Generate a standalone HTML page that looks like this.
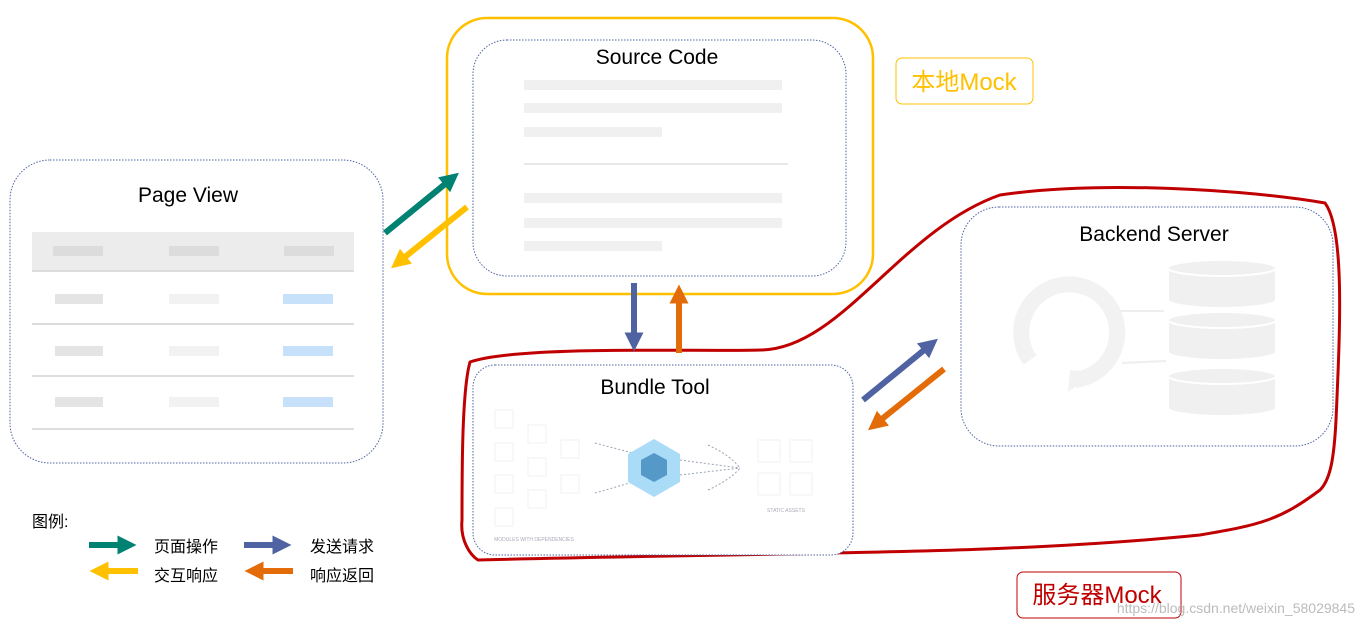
<!DOCTYPE html>
<html><head><meta charset="utf-8"><style>
body{margin:0;width:1364px;height:626px;background:#fff;overflow:hidden;font-family:"Liberation Sans","Noto Sans CJK SC",sans-serif}
</style></head><body>
<svg width="1364" height="626" viewBox="0 0 1364 626" xmlns="http://www.w3.org/2000/svg" font-family="Liberation Sans, Noto Sans CJK SC, sans-serif">
<defs>
<marker id="m" viewBox="0 0 10 10" refX="4" refY="5" markerWidth="3.2" markerHeight="3.4" orient="auto"><path d="M0,0L10,5L0,10z" fill="context-stroke"/></marker>
</defs>
<rect x="10" y="160" width="373" height="303" rx="40" fill="#fff" stroke="#4f63a2" stroke-dasharray="1.5 1.5"/>
<text x="188" y="202" font-size="21" text-anchor="middle">Page View</text>
<rect x="32" y="232" width="322" height="38" fill="#ececec"/>
<line x1="32" y1="271" x2="354" y2="271" stroke="#ddd" stroke-width="2"/>
<line x1="32" y1="324" x2="354" y2="324" stroke="#ddd" stroke-width="2"/>
<line x1="32" y1="376" x2="354" y2="376" stroke="#ddd" stroke-width="2"/>
<line x1="32" y1="429" x2="354" y2="429" stroke="#ddd" stroke-width="2"/>
<g fill="#dcdcdc"><rect x="53" y="246" width="50" height="10"/><rect x="169" y="246" width="50" height="10"/><rect x="284" y="246" width="50" height="10"/></g>
<g fill="#e4e4e4"><rect x="55" y="294" width="48" height="10"/><rect x="55" y="346" width="48" height="10"/><rect x="55" y="397" width="48" height="10"/></g>
<g fill="#f2f2f2"><rect x="169" y="294" width="50" height="10"/><rect x="169" y="346" width="50" height="10"/><rect x="169" y="397" width="50" height="10"/></g>
<g fill="#c8e1fa"><rect x="283" y="294" width="50" height="10"/><rect x="283" y="346" width="50" height="10"/><rect x="283" y="397" width="50" height="10"/></g>
<rect x="447" y="18" width="426" height="276" rx="40" fill="#fff" stroke="#ffc000" stroke-width="2.5"/>
<rect x="473" y="40" width="373" height="236" rx="34" fill="#fff" stroke="#4f63a2" stroke-dasharray="1.5 1.5"/>
<text x="657" y="64" font-size="21" text-anchor="middle">Source Code</text>
<g fill="#f0f0f0"><rect x="524" y="80" width="258" height="10"/><rect x="524" y="103" width="258" height="10"/><rect x="524" y="127" width="138" height="10"/><rect x="524" y="193" width="258" height="10"/><rect x="524" y="218" width="258" height="10"/><rect x="524" y="241" width="138" height="10"/></g>
<line x1="524" y1="164" x2="788" y2="164" stroke="#e8e8e8" stroke-width="2"/>
<rect x="896" y="58" width="137" height="46" rx="6" fill="#fff" stroke="#ffc000"/>
<text x="964" y="90" font-size="24" fill="#ffc000" text-anchor="middle">本地Mock</text>
<path d="M478,560 C470,555 460,540 462,520 C462,470 462,390 470,362 C520,345 700,352 760,350 C840,350 900,230 1000,195 C1100,180 1250,190 1325,203 C1345,230 1340,330 1336,420 C1334,460 1330,480 1320,490 C1280,520 1260,525 1200,535 C1000,555 800,552 478,560 Z" fill="none" stroke="#c00000" stroke-width="3"/>
<rect x="961" y="207" width="372" height="239" rx="38" fill="#fff" stroke="#4f63a2" stroke-dasharray="1.5 1.5"/>
<text x="1154" y="241" font-size="21" text-anchor="middle">Backend Server</text>
<path d="M1075,380 A48,48 0 1 0 1030,360" fill="none" stroke="#f2f2f2" stroke-width="16"/>
<path d="M1068,392 L1095,372 L1070,370z" fill="#f2f2f2"/>
<g fill="#f0f0f0" stroke="#fff" stroke-width="2">
<path d="M1168,268 v32 a54,8 0 0 0 108,0 v-32z"/><ellipse cx="1222" cy="268" rx="54" ry="8"/>
<path d="M1168,320 v32 a54,8 0 0 0 108,0 v-32z"/><ellipse cx="1222" cy="320" rx="54" ry="8"/>
<path d="M1168,376 v32 a54,8 0 0 0 108,0 v-32z"/><ellipse cx="1222" cy="376" rx="54" ry="8"/>
</g>
<line x1="1120" y1="311" x2="1164" y2="311" stroke="#eee" stroke-width="2"/>
<line x1="1122" y1="363" x2="1166" y2="361" stroke="#eee" stroke-width="2"/>
<rect x="473" y="365" width="380" height="190" rx="22" fill="#fff" stroke="#4f63a2" stroke-dasharray="1.5 1.5"/>
<text x="655" y="394" font-size="21" text-anchor="middle">Bundle Tool</text>
<g fill="none" stroke="#f3f5f8" stroke-width="1.5">
<rect x="495" y="410" width="18" height="18"/><rect x="528" y="425" width="18" height="18"/><rect x="495" y="443" width="18" height="18"/><rect x="561" y="440" width="18" height="18"/><rect x="528" y="458" width="18" height="18"/><rect x="495" y="475" width="18" height="18"/><rect x="561" y="475" width="18" height="18"/><rect x="528" y="490" width="18" height="18"/><rect x="495" y="508" width="18" height="18"/>
<rect x="758" y="440" width="22" height="22"/><rect x="790" y="440" width="22" height="22"/><rect x="758" y="473" width="22" height="22"/><rect x="790" y="473" width="22" height="22"/>
</g>
<g stroke="#9aa4b4" stroke-dasharray="2 2" fill="none"><path d="M595,443 L640,455"/><path d="M595,493 L640,480"/><path d="M680,460 L740,468"/><path d="M680,475 L740,468"/><path d="M708,445 Q730,455 740,468"/><path d="M708,490 Q730,480 740,468"/></g>
<path d="M654,439 L680,454 L680,482 L654,497 L628,482 L628,454z" fill="#aadcf8"/>
<path d="M654,453 L667,460 L667,475 L654,482 L641,475 L641,460z" fill="#5599c8"/>
<text x="534" y="541" font-size="5" fill="#aab" text-anchor="middle">MODULES WITH DEPENDENCIES</text>
<text x="786" y="512" font-size="5" fill="#aab" text-anchor="middle">STATIC ASSETS</text>
<g stroke-width="6" fill="none" marker-end="url(#m)">
<line x1="385" y1="233" x2="450" y2="180" stroke="#008272"/>
<line x1="467" y1="207" x2="400" y2="261" stroke="#ffc000"/>
<line x1="634" y1="283" x2="634" y2="340" stroke="#4f63a2"/>
<line x1="679" y1="353" x2="679" y2="296" stroke="#e36c09"/>
<line x1="863" y1="400" x2="929" y2="346" stroke="#4f63a2"/>
<line x1="944" y1="369" x2="877" y2="423" stroke="#e36c09"/>
<line x1="89" y1="545" x2="125" y2="545" stroke="#008272"/>
<line x1="138" y1="571" x2="101" y2="571" stroke="#ffc000"/>
<line x1="244" y1="545" x2="280" y2="545" stroke="#4f63a2"/>
<line x1="293" y1="571" x2="256" y2="571" stroke="#e36c09"/>
</g>
<g font-size="16"><text x="32" y="527">图例:</text>
<text x="154" y="552">页面操作</text><text x="310" y="552">发送请求</text>
<text x="154" y="581">交互响应</text><text x="310" y="581">响应返回</text></g>
<rect x="1017" y="572" width="164" height="46" rx="6" fill="#fff" stroke="#c00000"/>
<text x="1097" y="603" font-size="24" fill="#c00000" text-anchor="middle">服务器Mock</text>
<text x="1355" y="613" font-size="14" fill="#bbb" text-anchor="end">https://blog.csdn.net/weixin_58029845</text>
</svg>
</body></html>
